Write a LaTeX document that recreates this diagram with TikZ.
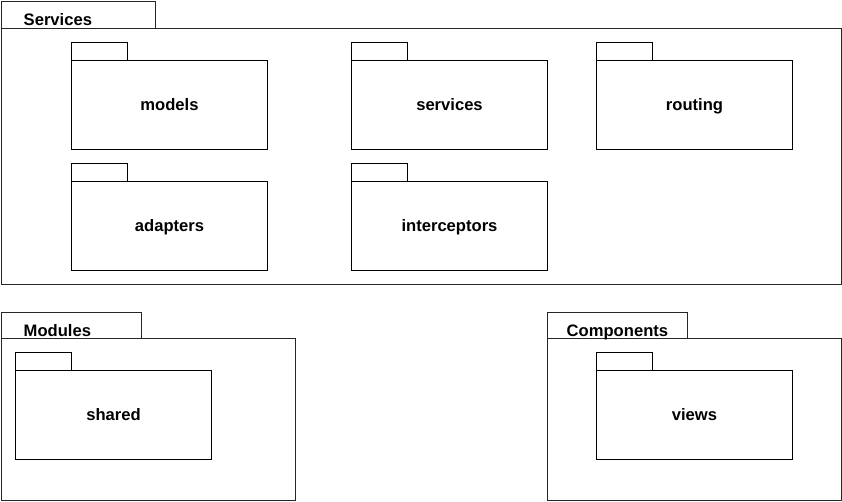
\documentclass[tikz,border=0pt]{standalone}
\usepackage{fontspec}
\setmainfont{Liberation Sans}
\begin{document}
\begin{tikzpicture}[x=1pt,y=-1pt,
  box/.style={draw=black, line width=1pt, fill=white, rectangle, inner sep=0pt, outer sep=0pt, anchor=north west},
  lbl/.style={font=\bfseries\fontsize{16.6}{19}\selectfont, inner sep=0pt},
  outer/.style={box, draw=black!85}]
\useasboundingbox (0,0) rectangle (842,502);
\begin{scope}[shift={(0.5,0.5)}]
% Services
\node[outer, minimum width=154pt, minimum height=27pt] (srvtab) at (1,1) {};
\node[outer, minimum width=840pt, minimum height=256pt] (srv) at (1,28) {};
\node[lbl, anchor=base west] (srvlbl) at (23,25.5) {Services};
% Modules
\node[outer, minimum width=140pt, minimum height=26pt] (modtab) at (1,312) {};
\node[outer, minimum width=294pt, minimum height=162pt] (mod) at (1,338) {};
\node[lbl, anchor=base west] (modlbl) at (23,335.5) {Modules};
% Components
\node[outer, minimum width=140pt, minimum height=26pt] (comtab) at (547,312) {};
\node[outer, minimum width=294pt, minimum height=162pt] (com) at (547,338) {};
\node[lbl, anchor=base west] (comlbl) at (566,335.5) {Components};
% inner packages
\foreach \nm/\txt/\x/\y in {models/models/71/60, services/services/351/60, routing/routing/596/60,
  adapters/adapters/71/181, interceptors/interceptors/351/181,
  shared/shared/15/370, views/views/596/370} {
  \node[box, minimum width=56pt, minimum height=18pt] (\nm tab) at (\x,\y-18) {};
  \node[box, minimum width=196pt, minimum height=89pt] (\nm) at (\x,\y) {};
  \node[lbl, anchor=base] (\nm lbl) at ([yshift=-5.5pt]\nm.center) {\txt};
}
\end{scope}
\end{tikzpicture}
\end{document}
